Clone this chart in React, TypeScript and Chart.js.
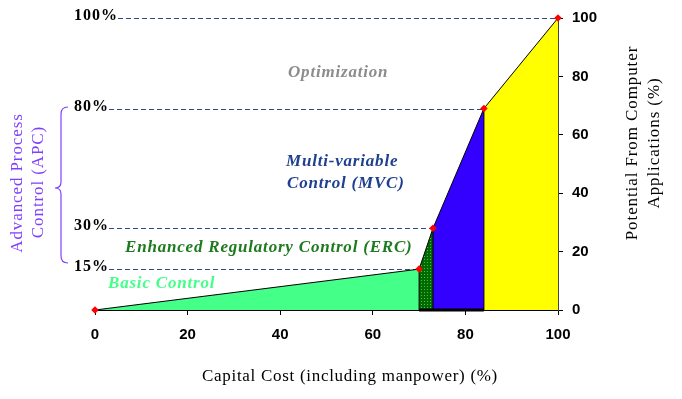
import React, { useEffect, useRef } from "react";
import { Chart, registerables } from "chart.js";

Chart.register(...registerables);

// ---- data ----
const capitalCost = [0, 70, 73, 84, 100];
const potential = [0, 14, 28, 69, 100];
const segmentColors = ["#44FF88", "DOTTED", "#3300FF", "#FFFF00"];
const levelLabels = ["15%", "30%", "80%", "100%"]; // for points 1..4
const boundaryIdx = [1, 2, 3];
const xTicks = [0, 20, 40, 60, 80, 100];

const W = 682;
const H = 399;

function makePattern(): CanvasPattern | string {
  const c = document.createElement("canvas");
  c.width = 3;
  c.height = 3;
  const g = c.getContext("2d");
  if (!g) return "#007000";
  g.fillStyle = "#006A00";
  g.fillRect(0, 0, 3, 3);
  g.fillStyle = "#4CC04C";
  g.fillRect(1, 1, 1, 1);
  const p = g.createPattern(c, "repeat");
  return p || "#007000";
}

function setSpacing(ctx: any, v: string) {
  try {
    ctx.letterSpacing = v;
  } catch (e) {
    /* ignore */
  }
}

export default function App() {
  const ref = useRef<HTMLCanvasElement>(null);

  useEffect(() => {
    if (!ref.current) return;
    const pattern = makePattern();

    const datasets: any[] = [];
    // outline + markers (index 0 -> drawn on top)
    datasets.push({
      data: capitalCost.map((x, i) => ({ x, y: potential[i] })),
      borderColor: "#000",
      borderWidth: 1,
      pointStyle: "rectRot",
      pointRadius: 3.8,
      pointBackgroundColor: "#FF0000",
      pointBorderColor: "#FF0000",
      pointBorderWidth: 0,
      fill: false,
      tension: 0,
      clip: false,
    });
    // vertical boundaries
    boundaryIdx.forEach((i) => {
      datasets.push({
        data: [
          { x: capitalCost[i], y: 0 },
          { x: capitalCost[i], y: potential[i] },
        ],
        borderColor: "#000",
        borderWidth: 1,
        pointRadius: 0,
        fill: false,
      });
    });
    // thick base line under APC
    datasets.push({
      data: [
        { x: capitalCost[1], y: 0 },
        { x: capitalCost[3], y: 0 },
      ],
      borderColor: "#000",
      borderWidth: 3,
      pointRadius: 0,
      fill: false,
      clip: false,
    });
    // filled segments
    for (let i = 0; i < capitalCost.length - 1; i++) {
      datasets.push({
        data: [
          { x: capitalCost[i], y: potential[i] },
          { x: capitalCost[i + 1], y: potential[i + 1] },
        ],
        borderWidth: 0,
        borderColor: "rgba(0,0,0,0)",
        backgroundColor: segmentColors[i] === "DOTTED" ? pattern : segmentColors[i],
        pointRadius: 0,
        fill: "origin",
        tension: 0,
      });
    }

    const annot = {
      id: "annot",
      beforeDatasetsDraw(chart: any) {
        const ctx = chart.ctx;
        const xs = chart.scales.x;
        const ys = chart.scales.y;
        ctx.save();
        ctx.font = "bold 16px 'Liberation Serif'";
        setSpacing(ctx, "1px");
        ctx.textBaseline = "middle";
        ctx.textAlign = "left";
        levelLabels.forEach((lab, k) => {
          const i = k + 1;
          const py = ys.getPixelForValue(potential[i]);
          const px = xs.getPixelForValue(capitalCost[i]);
          ctx.fillStyle = "#000";
          ctx.fillText(lab, 74, py - 2);
          const w = ctx.measureText(lab).width;
          ctx.strokeStyle = "#2B4C8C";
          ctx.lineWidth = 1;
          ctx.setLineDash([5, 3]);
          ctx.beginPath();
          ctx.moveTo(74 + w, Math.round(py) + 0.5);
          ctx.lineTo(px, Math.round(py) + 0.5);
          ctx.stroke();
        });
        ctx.restore();
      },
      afterDraw(chart: any) {
        const ctx = chart.ctx;
        ctx.save();
        ctx.textBaseline = "middle";
        ctx.textAlign = "left";
        // region labels
        ctx.font = "italic bold 17px 'Liberation Serif'";
        setSpacing(ctx, "0.8px");
        ctx.fillStyle = "#8C8C8C";
        ctx.fillText("Optimization", 288, 73);
        ctx.fillStyle = "#1F3F8F";
        ctx.fillText("Multi-variable", 286, 162);
        ctx.fillText("Control (MVC)", 287, 184);
        ctx.fillStyle = "#1E7A1E";
        ctx.fillText("Enhanced Regulatory Control (ERC)", 125, 248);
        ctx.fillStyle = "#44FF88";
        ctx.fillText("Basic Control", 108, 284);

        // x title
        ctx.font = "17px 'Liberation Serif'";
        setSpacing(ctx, "0.7px");
        ctx.fillStyle = "#000";
        ctx.textAlign = "center";
        ctx.fillText("Capital Cost (including manpower) (%)", 350, 377);

        // right title
        setSpacing(ctx, "0.9px");
        ctx.save();
        ctx.translate(633, 143);
        ctx.rotate(-Math.PI / 2);
        ctx.fillText("Potential From Computer", 0, 0);
        ctx.restore();
        ctx.save();
        ctx.translate(655, 143);
        ctx.rotate(-Math.PI / 2);
        ctx.fillText("Applications (%)", 0, 0);
        ctx.restore();

        // APC label
        ctx.fillStyle = "#7F3FFF";
        ctx.save();
        ctx.translate(18, 183);
        ctx.rotate(-Math.PI / 2);
        ctx.fillText("Advanced Process", 0, 0);
        ctx.restore();
        ctx.save();
        ctx.translate(39, 182);
        ctx.rotate(-Math.PI / 2);
        ctx.fillText("Control (APC)", 0, 0);
        ctx.restore();

        // brace
        ctx.strokeStyle = "#7F3FFF";
        ctx.lineWidth = 1.2;
        ctx.beginPath();
        ctx.moveTo(68, 107);
        ctx.quadraticCurveTo(61, 107, 61, 114);
        ctx.lineTo(61, 182);
        ctx.quadraticCurveTo(61, 188, 55, 188);
        ctx.quadraticCurveTo(61, 188, 61, 194);
        ctx.lineTo(61, 256);
        ctx.quadraticCurveTo(61, 263, 68, 263);
        ctx.stroke();
        ctx.restore();
      },
    };

    const tickFont = { family: "'Liberation Sans'", size: 15, weight: "bold" as const };

    const chart = new Chart(ref.current, {
      type: "line",
      data: { datasets },
      options: {
        animation: false,
        responsive: false,
        devicePixelRatio: 1,
        layout: { padding: { left: 95, top: 17, right: 0, bottom: 0 } },
        plugins: { legend: { display: false }, tooltip: { enabled: false } },
        elements: { line: { tension: 0 } },
        scales: {
          x: {
            type: "linear",
            position: "bottom",
            min: 0,
            max: 100,
            afterBuildTicks: (s: any) => {
              s.ticks = xTicks.map((v) => ({ value: v }));
            },
            afterFit: (s: any) => {
              s.height = 89;
            },
            ticks: { font: tickFont, color: "#000", padding: 11, maxRotation: 0 },
            grid: { drawOnChartArea: false, drawTicks: true, tickLength: 5, color: "#000" },
            border: { display: true, color: "#000", width: 1 },
          },
          y: {
            type: "linear",
            position: "right",
            min: 0,
            max: 100,
            afterBuildTicks: (s: any) => {
              s.ticks = xTicks.map((v) => ({ value: v }));
            },
            afterFit: (s: any) => {
              s.width = 124;
            },
            ticks: { font: tickFont, color: "#000", padding: 9 },
            grid: { drawOnChartArea: false, drawTicks: true, tickLength: 5, color: "#000" },
            border: { display: true, color: "#444", width: 1 },
          },
        },
      } as any,
      plugins: [annot],
    });
    return () => chart.destroy();
  }, []);

  return (
    <div style={{ position: "absolute", left: 0, top: 0, width: W, height: H, background: "#fff" }}>
      <canvas ref={ref} width={W} height={H} style={{ width: W, height: H }} />
    </div>
  );
}
